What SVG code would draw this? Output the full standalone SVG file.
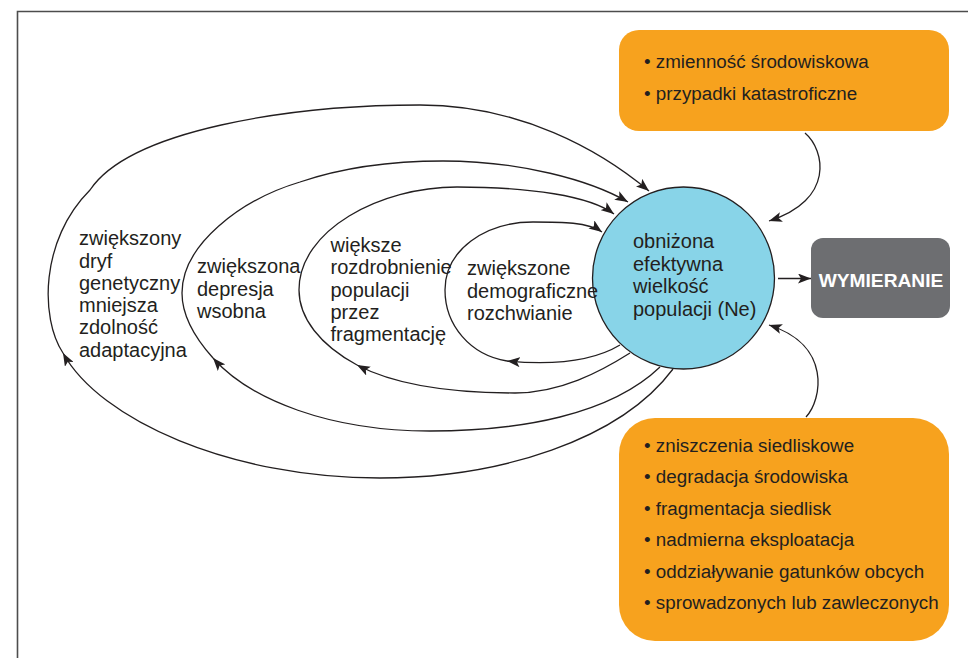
<svg xmlns="http://www.w3.org/2000/svg" width="968" height="658" viewBox="0 0 968 658">
<style>
.t{font-family:"Liberation Sans",Arial,sans-serif;fill:#231f20}
.lbl{font-size:20px}
.box{font-size:18.8px}
.c{fill:none;stroke:#231f20;stroke-width:1.3}
</style>
<defs>
<marker id="ah" viewBox="0 0 13 10" refX="13" refY="5" markerWidth="13" markerHeight="10" markerUnits="userSpaceOnUse" orient="auto">
<path d="M0,0 L13,5 L0,10 L3,5 z" fill="#231f20"/>
</marker>
</defs>
<rect width="968" height="658" fill="#fff"/>
<path d="M17.5,658 V11.5 H968" fill="none" stroke="#4d4d4d" stroke-width="1.6"/>

<g id="connectors">
<!-- outer loop -->
<path class="c" marker-end="url(#ah)" d="M673,369 C620,440 500,478 380,478 C230,478 100,420 63,353"/>
<path class="c" marker-end="url(#ah)" d="M63,353 C40,318 40,240 90,190 C130,130 290,105 420,105 C520,105 600,150 649,191"/>
<!-- second loop -->
<path class="c" marker-end="url(#ah)" d="M660,367 C610,415 520,431 430,431 C330,431 250,400 213,358"/>
<path class="c" marker-end="url(#ah)" d="M213,358 C195,338 182,315 182,293 C182,245 240,200 300,182 C350,165 400,161 443,161 C520,161 590,180 628,202"/>
<!-- third loop -->
<path class="c" marker-end="url(#ah)" d="M630,353 C600,372 560,393 515,393 C450,393 395,385 357,365"/>
<path class="c" marker-end="url(#ah)" d="M357,365 C320,345 299,318 299,290 C299,230 380,187 457,187 C530,187 590,196 614,214"/>
<!-- inner loop -->
<path class="c" marker-end="url(#ah)" d="M620,345 C595,360 560,366 507,361"/>
<path class="c" marker-end="url(#ah)" d="M507,361 C470,355 445,325 445,290 C445,250 485,222 533,222 C562,222 588,222 602,232"/>
<!-- boxes to circle -->
<path class="c" marker-end="url(#ah)" d="M805,133 C825,150 835,200 769,221"/>
<path class="c" marker-end="url(#ah)" d="M806,417 C822,400 832,345 769,325"/>
<!-- circle to WYMIERANIE -->
<path class="c" marker-end="url(#ah)" d="M778,278.5 L811,278.5"/>
</g>

<g id="top-box">
<rect x="619" y="30" width="330" height="101" rx="20" fill="#f7a21e"/>
<text class="t box" x="644" y="68">• zmienność środowiskowa</text>
<text class="t box" x="644" y="100">• przypadki katastroficzne</text>
</g>

<g id="bottom-box">
<rect x="619" y="418" width="330" height="223" rx="36" fill="#f7a21e"/>
<text class="t box" x="644" y="452">• zniszczenia siedliskowe</text>
<text class="t box" x="644" y="483">• degradacja środowiska</text>
<text class="t box" x="644" y="514.5">• fragmentacja siedlisk</text>
<text class="t box" x="644" y="546">• nadmierna eksploatacja</text>
<text class="t box" x="644" y="577.5">• oddziaływanie gatunków obcych</text>
<text class="t box" x="644" y="609">• sprowadzonych lub zawleczonych</text>
</g>

<g id="ne-circle">
<circle cx="683.5" cy="278" r="91" fill="#88d4e8" stroke="#231f20" stroke-width="1.3"/>
<text class="t lbl" x="633" y="248">obniżona</text>
<text class="t lbl" x="633" y="270.5">efektywna</text>
<text class="t lbl" x="633" y="293">wielkość</text>
<text class="t lbl" x="633" y="315.5">populacji (Ne)</text>
</g>

<g id="wymieranie">
<rect x="811" y="238" width="139" height="80" rx="12" fill="#6d6e71"/>
<text x="881" y="287" text-anchor="middle" font-family="Liberation Sans,Arial,sans-serif" font-weight="bold" font-size="19.2" fill="#fff">WYMIERANIE</text>
</g>

<g id="label-dryf">
<text class="t lbl" x="79" y="245">zwiększony</text>
<text class="t lbl" x="79" y="267.5">dryf</text>
<text class="t lbl" x="79" y="290">genetyczny</text>
<text class="t lbl" x="79" y="312">mniejsza</text>
<text class="t lbl" x="79" y="334">zdolność</text>
<text class="t lbl" x="79" y="356.5">adaptacyjna</text>
</g>

<g id="label-depresja">
<text class="t lbl" x="197" y="273">zwiększona</text>
<text class="t lbl" x="197" y="295.5">depresja</text>
<text class="t lbl" x="197" y="318">wsobna</text>
</g>

<g id="label-rozdrobnienie">
<text class="t lbl" x="330.5" y="252">większe</text>
<text class="t lbl" x="330.5" y="274">rozdrobnienie</text>
<text class="t lbl" x="330.5" y="296.5">populacji</text>
<text class="t lbl" x="330.5" y="319">przez</text>
<text class="t lbl" x="330.5" y="341">fragmentację</text>
</g>

<g id="label-demograficzne">
<text class="t lbl" x="467" y="275">zwiększone</text>
<text class="t lbl" x="467" y="297.5">demograficzne</text>
<text class="t lbl" x="467" y="319.5">rozchwianie</text>
</g>
</svg>
